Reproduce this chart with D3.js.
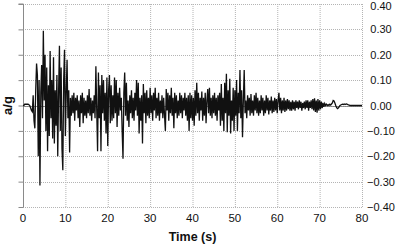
<!DOCTYPE html>
<html>
<head>
<meta charset="utf-8">
<script src="https://cdn.jsdelivr.net/npm/d3@7"></script>
<style>
  body { margin: 0; background: #fff; }
  text { font-family: "Liberation Sans", Arial, sans-serif; fill: #111; }
</style>
</head>
<body>
<svg id="chart" width="397" height="246"></svg>
<script>
// accelerogram, one value every 0.2 s
const dt = 0.2;
const acc0to10 = [
	0, 0, 0.005, 0.005, 0.005, 0.005, 0.005, 0.003, 0, -0.01,
	-0.02, -0.025, 0.04, -0.06, -0.09, 0.06, 0.165, 0.12, -0.2, 0.1,
	-0.315, 0.05, 0.16, -0.05, 0.295, 0.02, 0.2, -0.1, 0.15, -0.18,
	0.08, -0.12, 0.215, -0.05, 0.1, -0.13, 0.19, -0.15, 0.06, -0.08,
	0.12, -0.2, 0.05, 0.235, -0.1, 0.15, -0.17, -0.255, 0.1, 0.22
];
const acc10to20 = [
	-0.12, 0.05, 0.18, -0.05, 0.06, -0.185, 0.03, -0.04, 0.04, -0.03,
	0.05, -0.06, 0.03, -0.02, 0.04, -0.05, 0.02, -0.085, 0.04, -0.03,
	0.05, -0.07, 0.03, -0.04, 0.02, -0.05, 0.04, -0.03, 0.065, -0.04,
	0.03, -0.06, 0.02, -0.03, 0.04, -0.05, 0.155, -0.02, -0.18, 0.13,
	-0.05, 0.08, -0.18, 0.12, -0.03, 0.1, -0.06, 0.05, -0.11, 0.11
];
const acc20to30 = [
	-0.16, 0.06, 0.12, -0.07, 0.08, -0.06, 0.04, -0.05, 0.11, -0.03,
	0.1, -0.085, 0.05, -0.04, 0.07, -0.02, 0.03, -0.1, -0.21, 0.05,
	0.13, -0.04, 0.09, -0.06, 0.02, -0.085, 0.04, -0.03, 0.06, -0.05,
	0.03, -0.06, 0.05, -0.02, 0.1, -0.04, 0.09, -0.11, 0.03, -0.06,
	0.04, -0.15, 0.085, -0.03, 0.05, -0.07, 0.06, -0.04, 0.03, -0.05
];
const acc30to40 = [
	0.07, -0.03, 0.04, -0.06, 0.05, -0.02, 0.07, -0.05, 0.03, -0.04,
	0.05, -0.06, 0.02, -0.03, 0.04, -0.05, 0.03, -0.04, -0.1, 0.065,
	-0.02, 0.05, -0.06, 0.04, -0.03, 0.07, -0.04, 0.03, -0.09, 0.05,
	-0.03, 0.04, -0.05, 0.02, -0.04, 0.05, -0.03, 0.04, -0.05, 0.03,
	-0.02, 0.05, -0.04, 0.03, -0.06, 0.04, -0.1, 0.05, -0.05, 0.04
];
const acc40to50 = [
	-0.06, 0.03, -0.08, 0.06, -0.04, 0.09, -0.03, 0.05, -0.06, 0.03,
	-0.02, 0.055, -0.06, 0.03, -0.04, 0.05, -0.07, 0.02, 0.065, -0.03,
	0.07, -0.04, 0.03, -0.05, 0.04, -0.03, 0.05, -0.04, 0.03, -0.06,
	0.04, -0.02, 0.05, -0.08, 0.085, -0.06, 0.03, -0.1, 0.09, -0.03,
	0.125, -0.105, 0.06, -0.04, 0.105, -0.11, 0.02, -0.06, 0.07, -0.1
];
const acc50to60 = [
	0.06, -0.04, 0.1, -0.1, 0.05, -0.03, 0.14, -0.05, 0.06, -0.125,
	0.02, 0.14, -0.03, 0.02, -0.05, 0.04, -0.02, 0.03, -0.04, 0.045,
	-0.03, 0.02, -0.04, 0.04, -0.02, 0.05, -0.03, 0.03, -0.04, 0.02,
	-0.03, 0.04, -0.02, 0.03, -0.04, 0.02, -0.03, 0.04, -0.02, 0.03,
	-0.035, 0.02, -0.02, 0.035, -0.03, 0.02, -0.025, 0.03, -0.02, 0.025
];
const acc60to70 = [
	-0.03, 0.02, 0.05, -0.02, 0.03, -0.03, 0.02, -0.02, 0.03, -0.025,
	0.02, -0.02, 0.025, -0.015, 0.02, -0.02, 0.015, -0.02, 0.02, -0.015,
	0.015, -0.02, 0.02, -0.01, 0.015, -0.015, 0.02, -0.01, 0.015, -0.02,
	0.01, -0.01, 0.015, -0.015, 0.02, -0.01, 0.02, -0.02, 0.015, -0.01,
	0.02, -0.015, 0.025, -0.02, 0.028, -0.025, 0.02, -0.028, 0.025, -0.02
];
const acc70to80 = [
	0.02, -0.015, 0.015, -0.01, 0.01, -0.005, 0.008, 0, 0.005, 0,
	0.003, 0, 0.005, 0.002, 0.006, 0.01, 0.02, 0.018, 0.01, 0,
	-0.008, -0.012, -0.01, -0.005, 0, 0.002, 0.004, 0.005, 0.004, 0.006,
	0.004, 0.005, 0.006, 0.004, 0.002, 0.001, 0, 0, 0, 0,
	0, 0, 0, 0, 0, 0, 0, 0, 0, 0, 0
];
const xTicks = [0, 10, 20, 30, 40, 50, 60, 70, 80];
const yTicks = [-0.4, -0.3, -0.2, -0.1, 0, 0.1, 0.2, 0.3, 0.4];

const accel = [].concat(acc0to10, acc10to20, acc20to30, acc30to40,
	acc40to50, acc50to60, acc60to70, acc70to80);
const series = accel.map((a, i) => ({ t: i * dt, a: a }));

const svg = d3.select('#chart');
const margin = { left: 23, right: 35, top: 4, bottom: 39 };
const width = 397 - margin.left - margin.right;
const height = 246 - margin.top - margin.bottom;

const x = d3.scaleLinear().domain([0, 80]).range([margin.left, margin.left + width]);
const y = d3.scaleLinear().domain([-0.4, 0.4]).range([margin.top + height, margin.top]);

// dotted grid
const grid = svg.append('g');
grid.selectAll('line.v').data(xTicks.filter(d => d > 0)).enter()
	.append('line')
		.attr('x1', d => x(d) + 0.5).attr('x2', d => x(d) + 0.5)
		.attr('y1', y(0.4)).attr('y2', y(-0.4))
		.attr('stroke', '#b4b4b4').attr('stroke-dasharray', '1,1');
grid.selectAll('line.h').data(yTicks).enter()
	.append('line')
		.attr('x1', x(0)).attr('x2', x(80))
		.attr('y1', d => Math.round(y(d)) + 0.5).attr('y2', d => Math.round(y(d)) + 0.5)
		.attr('stroke', '#b4b4b4').attr('stroke-dasharray', '1,1');

// zero line
svg.append('line')
	.attr('x1', x(0)).attr('x2', x(80))
	.attr('y1', Math.round(y(0)) + 0.5).attr('y2', Math.round(y(0)) + 0.5)
	.attr('stroke', '#777').attr('stroke-width', 0.8);

// left axis, ticks only
const yAxis = svg.append('g')
	.attr('transform', `translate(${x(0) + 0.5},0)`)
	.call(d3.axisLeft(y).tickValues(yTicks).tickSize(5).tickFormat(''));
yAxis.selectAll('path, line').attr('stroke', '#8a8a8a');
yAxis.select('.domain').attr('d', `M-5,${y(0.4)}H0V${y(-0.4)}`);

// signal
svg.append('path').datum(series)
	.attr('fill', 'none')
	.attr('stroke', '#111')
	.attr('stroke-width', 1.3)
	.attr('stroke-linejoin', 'miter')
	.attr('d', d3.line().x(d => x(d.t)).y(d => y(d.a)));

// tick labels
svg.append('g').selectAll('text').data(xTicks).enter()
	.append('text')
		.attr('x', d => x(d)).attr('y', 222)
		.attr('text-anchor', 'middle')
		.attr('font-size', 11.5)
		.text(d => d);
svg.append('g').selectAll('text').data(yTicks).enter()
	.append('text')
		.attr('x', 381).attr('y', d => Math.max(y(d) + 4, 10))
		.attr('text-anchor', 'middle')
		.attr('font-size', 11)
		.text(d => d3.format('.2f')(d));

// axis titles
svg.append('text')
	.attr('x', (x(0) + x(80)) / 2).attr('y', 241)
	.attr('text-anchor', 'middle')
	.attr('font-size', 12.5).attr('font-weight', 'bold')
	.text('Time (s)');
svg.append('text')
	.attr('transform', `translate(12,${y(0)}) rotate(-90)`)
	.attr('text-anchor', 'middle')
	.attr('font-size', 13).attr('font-weight', 'bold')
	.text('a/g');
</script>
</body>
</html>
